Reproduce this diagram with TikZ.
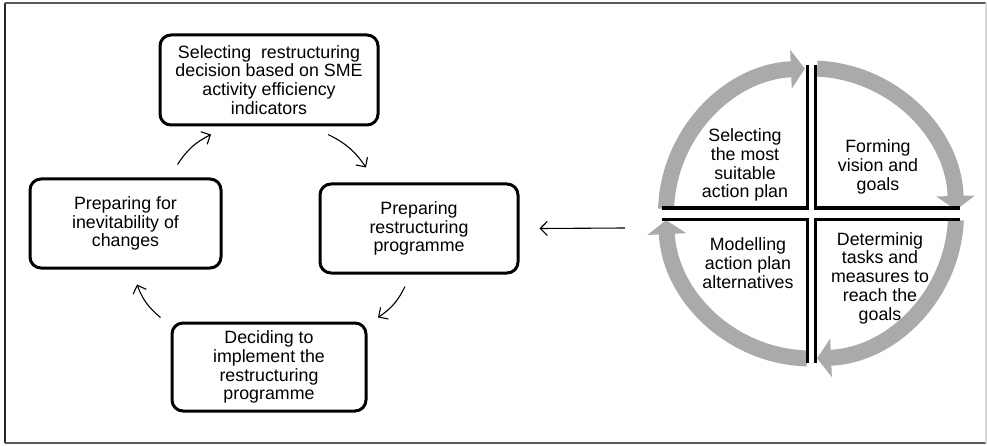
\documentclass[tikz,border=0pt]{standalone}
\usepackage{fontspec}
\setmainfont{Liberation Sans}
\usetikzlibrary{arrows.meta}
\definecolor{ringgray}{RGB}{170,170,170}

\begin{document}
\begin{tikzpicture}[x=1pt,y=1pt,
                                font=\fontsize{17.8}{18.8}\selectfont,
                                stage/.style={draw,line width=3pt,rounded corners=11pt,align=center,inner sep=0pt},
                                flow/.style={-{Straight Barb[length=7pt,width=14pt]},line width=1.1pt},
                                wheelarc/.style={ringgray,line width=16pt,-{Triangle[length=14pt,width=38pt]}},
                                rim/.style={line width=3pt}]
                                \useasboundingbox (0,0) rectangle (987,445);
                                \draw[line width=1.6pt,black!85] (5,442) -- (5,2);
                                \draw[line width=1.6pt,black!65] (5,2) -- (986,2);
                                \draw[line width=1.6pt,black!65] (5,442) -- (986,442);
                                \draw[line width=1.6pt,black!15] (986,442) -- (986,2);
                                \node[stage,minimum width=218pt,minimum height=90pt] (top) at (269,365) {Selecting~ restructuring\\decision based on SME\\activity efficiency\\indicators};
                                \node[stage,minimum width=191pt,minimum height=89pt] (left) at (125.5,221.5) {Preparing for\\inevitability of\\changes};
                                \node[stage,minimum width=198pt,minimum height=89pt] (right) at (419,216.5) {Preparing\\restructuring\\programme};
                                \node[stage,minimum width=194pt,minimum height=88pt] (bottom) at (269,78) {Deciding to\\implement the\\restructuring\\programme};
                                \draw[flow] ([xshift=52pt,yshift=13pt]left.north) to[bend left=15] ([xshift=-58pt,yshift=-8pt]top.south);
                                \draw[flow] ([xshift=59pt,yshift=-8pt]top.south) to[bend left=15] ([xshift=-53pt,yshift=15pt]right.north);
                                \draw[flow] ([xshift=-14pt,yshift=-12pt]right.south) to[bend left=15] ([xshift=109pt,yshift=4pt]bottom.north);
                                \draw[flow] ([xshift=-10pt,yshift=4pt]bottom.north west) to[bend left=15] ([xshift=11.5pt,yshift=-15pt]left.south);
                                \coordinate (C) at (811,231.5);
                                \coordinate (wheel) at (625,217);
                                \draw[flow] (wheel) -- ([xshift=20pt]right.east);
                                \draw[wheelarc] ([shift={(178.2:145pt)}]C) arc[start angle=178.2,end angle=92.4,radius=145pt];
                                \draw[wheelarc] ([shift={(87.6:145pt)}]C) arc[start angle=87.6,end angle=1.4,radius=145pt];
                                \draw[wheelarc] ([shift={(-2.6:145pt)}]C) arc[start angle=-2.6,end angle=-87.6,radius=145pt];
                                \draw[wheelarc] ([shift={(268.4:145pt)}]C) arc[start angle=268.4,end angle=182.6,radius=145pt];
                                \draw[rim] (807,380) -- (807,237) -- (662,237);
                                \draw[rim] (815,380) -- (815,237) -- (960,237);
                                \draw[rim] (960,226) -- (815,226) -- (815,82);
                                \draw[rim] (662,226) -- (807,226) -- (807,82);
                                \node[align=center] (plan) at (745,280) {Selecting\\the most\\suitable\\action plan};
                                \node[align=center] (vision) at (878,278) {Forming\\vision and\\goals};
                                \node[align=center] (models) at (748,182) {Modelling\\action plan\\alternatives};
                                \node[align=center] (tasks) at (880,167) {Determinig\\tasks and\\measures to\\reach the\\goals};
                            \end{tikzpicture}
\end{document}
